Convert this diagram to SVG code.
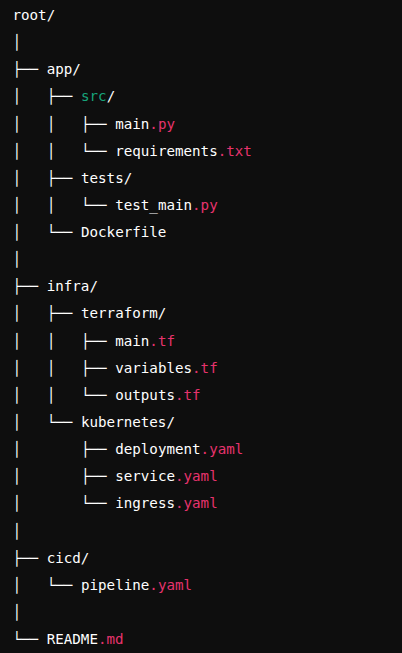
<svg xmlns="http://www.w3.org/2000/svg" width="402" height="653" viewBox="0 0 402 653">
<style>
text{font-family:"DejaVu Sans Mono","Liberation Mono",monospace;font-size:14.2px;fill:#ffffff}
.ext{fill:#e6336d}
.grn{fill:#17a57b}
</style>
<rect width="402" height="653" fill="#0e0e0e"/>
<g id="connectors">
<text x="12.5" y="47.1">│</text>
<text x="12.5" y="74.3">├──</text>
<text x="12.5" y="101.4">│</text><text x="46.7" y="101.4">├──</text>
<text x="12.5" y="128.5">│</text><text x="46.7" y="128.5">│</text><text x="81" y="128.5">├──</text>
<text x="12.5" y="155.7">│</text><text x="46.7" y="155.7">│</text><text x="81" y="155.7">└──</text>
<text x="12.5" y="182.8">│</text><text x="46.7" y="182.8">├──</text>
<text x="12.5" y="209.9">│</text><text x="46.7" y="209.9">│</text><text x="81" y="209.9">└──</text>
<text x="12.5" y="237">│</text><text x="46.7" y="237">└──</text>
<text x="12.5" y="264.2">│</text>
<text x="12.5" y="291.3">├──</text>
<text x="12.5" y="318.4">│</text><text x="46.7" y="318.4">├──</text>
<text x="12.5" y="345.6">│</text><text x="46.7" y="345.6">│</text><text x="81" y="345.6">├──</text>
<text x="12.5" y="372.7">│</text><text x="46.7" y="372.7">│</text><text x="81" y="372.7">├──</text>
<text x="12.5" y="399.8">│</text><text x="46.7" y="399.8">│</text><text x="81" y="399.8">└──</text>
<text x="12.5" y="427">│</text><text x="46.7" y="427">└──</text>
<text x="12.5" y="454.1">│</text><text x="81" y="454.1">├──</text>
<text x="12.5" y="481.2">│</text><text x="81" y="481.2">├──</text>
<text x="12.5" y="508.3">│</text><text x="81" y="508.3">└──</text>
<text x="12.5" y="535.5">│</text>
<text x="12.5" y="562.6">├──</text>
<text x="12.5" y="589.7">│</text><text x="46.7" y="589.7">└──</text>
<text x="12.5" y="616.9">│</text>
<text x="12.5" y="644">└──</text>
</g>
<g id="root"><text x="12.5" y="20">root/</text></g>
<g id="app"><text x="46.7" y="74.3">app/</text></g>
<g id="src"><text x="81" y="101.4"><tspan class="grn">src</tspan>/</text></g>
<g id="main-py"><text x="115.2" y="128.5">main<tspan class="ext">.py</tspan></text></g>
<g id="requirements-txt"><text x="115.2" y="155.7">requirements<tspan class="ext">.txt</tspan></text></g>
<g id="tests"><text x="81" y="182.8">tests/</text></g>
<g id="test-main-py"><text x="115.2" y="209.9">test_main<tspan class="ext">.py</tspan></text></g>
<g id="dockerfile"><text x="81" y="237">Dockerfile</text></g>
<g id="infra"><text x="46.7" y="291.3">infra/</text></g>
<g id="terraform"><text x="81" y="318.4">terraform/</text></g>
<g id="main-tf"><text x="115.2" y="345.6">main<tspan class="ext">.tf</tspan></text></g>
<g id="variables-tf"><text x="115.2" y="372.7">variables<tspan class="ext">.tf</tspan></text></g>
<g id="outputs-tf"><text x="115.2" y="399.8">outputs<tspan class="ext">.tf</tspan></text></g>
<g id="kubernetes"><text x="81" y="427">kubernetes/</text></g>
<g id="deployment-yaml"><text x="115.2" y="454.1">deployment<tspan class="ext">.yaml</tspan></text></g>
<g id="service-yaml"><text x="115.2" y="481.2">service<tspan class="ext">.yaml</tspan></text></g>
<g id="ingress-yaml"><text x="115.2" y="508.3">ingress<tspan class="ext">.yaml</tspan></text></g>
<g id="cicd"><text x="46.7" y="562.6">cicd/</text></g>
<g id="pipeline-yaml"><text x="81" y="589.7">pipeline<tspan class="ext">.yaml</tspan></text></g>
<g id="readme-md"><text x="46.7" y="644">README<tspan class="ext">.md</tspan></text></g>
</svg>
